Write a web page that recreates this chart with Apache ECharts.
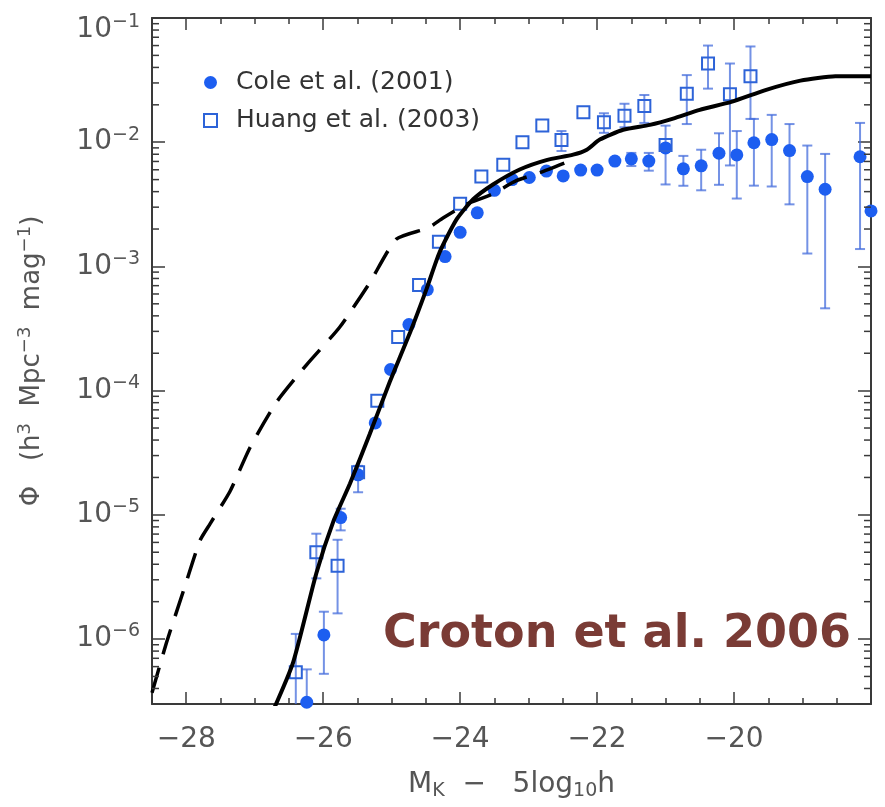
<!DOCTYPE html>
<html><head><meta charset="utf-8">
<script src="https://cdn.jsdelivr.net/npm/echarts@6/dist/echarts.min.js"></script>
<style>html,body{margin:0;padding:0;background:#fff}#c{width:885px;height:807px}</style>
</head><body><div id="c"></div>
<script>
// ---- axis ranges ----
const xMin = -28.5, xMax = -18;
const yMin = 3e-7, yMax = 0.1;

// ---- Cole et al. (2001) ----
const coleX  = [-26.24,-25.99,-25.745,-25.49,-25.24,-25.016,-24.748,-24.48,-24.22,-24.0,-23.75,-23.5,-23.24,-22.99,-22.74,-22.495,-22.24,-22.0,-21.74,-21.5,-21.245,-21.0,-20.74,-20.48,-20.22,-19.96,-19.71,-19.45,-19.19,-18.93,-18.67,-18.16,-18.0];
const coleY  = [3.1e-7,1.08e-6,9.5e-6,2.1e-5,5.5e-5,1.48e-4,3.4e-4,6.5e-4,1.2e-3,1.88e-3,2.7e-3,4.1e-3,5.0e-3,5.2e-3,5.86e-3,5.35e-3,5.97e-3,5.97e-3,7.05e-3,7.35e-3,7.05e-3,9.0e-3,6.1e-3,6.45e-3,8.15e-3,7.9e-3,9.9e-3,1.05e-2,8.57e-3,5.29e-3,4.18e-3,7.64e-3,2.8e-3];
const coleLo = [1e-7,5.25e-7,7.5e-6,1.52e-5,null,null,null,null,null,null,null,null,null,null,null,null,null,null,null,6.43e-3,5.9e-3,4.57e-3,4.46e-3,4.1e-3,4.54e-3,3.52e-3,4.47e-3,4.4e-3,3.16e-3,1.27e-3,4.6e-4,1.38e-3,null];
const coleHi = [5.7e-7,1.66e-6,1.12e-5,2.48e-5,null,null,null,null,null,null,null,null,null,null,null,null,null,null,null,8.2e-3,8.2e-3,1.36e-2,7.76e-3,8.7e-3,1.18e-2,1.23e-2,1.54e-2,1.66e-2,1.4e-2,9.4e-3,8.05e-3,1.43e-2,null];

// ---- Huang et al. (2003) ----
const huangX  = [-26.40,-26.10,-25.79,-25.49,-25.21,-24.905,-24.60,-24.31,-24.0,-23.69,-23.37,-23.09,-22.80,-22.52,-22.20,-21.90,-21.60,-21.31,-21.0,-20.69,-20.38,-20.06,-19.76];
const huangY  = [5.4e-7,5.0e-6,3.9e-6,2.2e-5,8.3e-5,2.7e-4,7.1e-4,1.58e-3,3.2e-3,5.3e-3,6.6e-3,1.0e-2,1.36e-2,1.04e-2,1.74e-2,1.45e-2,1.63e-2,1.96e-2,9.5e-3,2.45e-2,4.3e-2,2.43e-2,3.4e-2];
const huangLo = [1e-7,3.08e-6,1.61e-6,null,null,null,null,null,null,null,null,null,null,8.5e-3,null,1.19e-2,1.32e-2,1.43e-2,null,1.4e-2,2.7e-2,6.5e-3,1.54e-2];
const huangHi = [1.1e-6,7.05e-6,6.3e-6,null,null,null,null,null,null,null,null,null,null,1.23e-2,null,1.71e-2,2.04e-2,2.4e-2,null,3.47e-2,6.0e-2,4.3e-2,5.9e-2];

// ---- model curves ----
const modelX = [-26.75,-26.44,-26.10,-25.85,-25.61,-25.32,-25.03,-24.73,-24.49,-24.30,-24.05,-23.81,-23.52,-23.13,-22.74,-22.35,-22.15,-21.96,-21.62,-21.23,-20.89,-20.50,-20.04,-19.53,-19.03,-18.52,-18.0];
const modelY = [2.51e-7,6.46e-7,3.39e-6,8.9e-6,1.78e-5,4.47e-5,1.17e-4,2.95e-4,6.6e-4,1.30e-3,2.4e-3,3.47e-3,4.57e-3,6.03e-3,7.18e-3,7.94e-3,8.7e-3,1.05e-2,1.26e-2,1.38e-2,1.55e-2,1.82e-2,2.11e-2,2.64e-2,3.13e-2,3.39e-2,3.4e-2];
const dashX = [-28.5,-28.29,-28.04,-27.80,-27.65,-27.36,-27.07,-26.68,-26.24,-25.76,-25.32,-24.93,-24.47,-24.25,-23.91,-23.54,-23.18,-22.84,-22.40];
const dashY = [3.7e-7,9.3e-7,2.45e-6,6.2e-6,8.5e-6,1.55e-5,3.47e-5,8.1e-5,1.62e-4,3.24e-4,7.4e-4,1.66e-3,2.04e-3,2.45e-3,3.16e-3,3.8e-3,4.9e-3,5.68e-3,7.08e-3];

// ---- labels ----
const seriesNames = ['Cole et al. (2001)', 'Huang et al. (2003)'];
const annotation = 'Croton et al. 2006';

// minor log ticks (2..9 x 10^n) inside the y range
const yMinorTicks = [];
for (let e = -7; e <= -2; e++) for (let m = 2; m <= 9; m++) {
  const v = m * Math.pow(10, e);
  if (v > yMin && v < yMax) yMinorTicks.push(v);
}

const FONT = 'DejaVu Sans';
const AX = '#3a3a3a';
const LBL = '#555';
const BLUE = '#1d5ef0';
const SQ = '#2d63d8';
const ERR = 'rgba(70,110,220,0.75)';

function errData(xs, ys, lo, hi) {
  const out = [];
  xs.forEach((x, i) => { if (lo[i] != null) out.push([x, ys[i], lo[i], hi[i]]); });
  return out;
}
function errItem(params, api) {
  const x = api.value(0), lo = api.value(2), hi = api.value(3);
  const a = api.coord([x, lo]), b = api.coord([x, hi]);
  const w = 5, st = { stroke: ERR, lineWidth: 2 };
  return { type: 'group', children: [
    { type: 'line', shape: { x1: a[0], y1: a[1], x2: b[0], y2: b[1] }, style: st },
    { type: 'line', shape: { x1: a[0] - w, y1: a[1], x2: a[0] + w, y2: a[1] }, style: st },
    { type: 'line', shape: { x1: b[0] - w, y1: b[1], x2: b[0] + w, y2: b[1] }, style: st }
  ]};
}
function minorTickItem(params, api) {
  const p = api.coord([xMin, api.value(1)]);
  const cs = params.coordSys;
  const st = { stroke: AX, lineWidth: 1.5 };
  return { type: 'group', children: [
    { type: 'line', shape: { x1: cs.x, y1: p[1], x2: cs.x + 7, y2: p[1] }, style: st },
    { type: 'line', shape: { x1: cs.x + cs.width - 7, y1: p[1], x2: cs.x + cs.width, y2: p[1] }, style: st }
  ]};
}
const supRich = {
  b: { fontSize: 28, fontFamily: FONT, color: LBL, lineHeight: 34 },
  s: { fontSize: 19, fontFamily: FONT, color: LBL, lineHeight: 16, verticalAlign: 'top' },
  g: { fontSize: 2, lineHeight: 24 }
};
const axisCommon = {
  axisLine: { show: true, onZero: false, lineStyle: { color: AX, width: 2 } },
  splitLine: { show: false }
};

const chart = echarts.init(document.getElementById('c'), null, { renderer: 'canvas' });
chart.setOption({
  backgroundColor: '#fff',
  animation: false,
  grid: { left: 152, right: 14, top: 14, bottom: 103, containLabel: false },
  legend: {
    data: seriesNames, orient: 'vertical', left: 198, top: 65,
    itemWidth: 13, itemHeight: 13, itemGap: 13,
    formatter: n => '{t|' + n + '}',
    textStyle: { rich: { t: { fontSize: 25, fontFamily: FONT, color: '#333', lineHeight: 26, padding: [0, 0, 0, 14] } } }
  },
  graphic: [{
    type: 'text', left: 383, top: 612,
    style: { text: annotation, fontSize: 46, fontWeight: 'bold', fontFamily: '"Comic Sans MS", "DejaVu Sans"', fill: '#7a3b35' }
  }],
  xAxis: [{
    type: 'value', min: xMin, max: xMax, position: 'bottom', ...axisCommon,
    axisTick: { inside: true, length: 12, lineStyle: { color: AX, width: 1.5 } },
    minorTick: { show: true, splitNumber: 4, length: 6, lineStyle: { color: AX, width: 1.5 } },
    axisLabel: { showMinLabel: false, showMaxLabel: false, margin: 22, fontSize: 28, fontFamily: FONT, color: LBL,
      formatter: v => (v < 0 ? '−' : '') + Math.abs(v) },
    name: '{b|M}{sub|K}{b|  −   5log}{sub|10}{b|h}', nameLocation: 'middle', nameGap: 65,
    nameTextStyle: { rich: {
      b: { fontSize: 28, fontFamily: FONT, color: LBL, lineHeight: 32 },
      sub: { fontSize: 19, fontFamily: FONT, color: LBL, lineHeight: 14, verticalAlign: 'bottom' } } }
  }, {
    type: 'value', min: xMin, max: xMax, position: 'top', ...axisCommon,
    axisTick: { inside: true, length: 12, lineStyle: { color: AX, width: 1.5 } },
    minorTick: { show: true, splitNumber: 4, length: 6, lineStyle: { color: AX, width: 1.5 } },
    axisLabel: { show: false }
  }],
  yAxis: [{
    type: 'log', logBase: 10, min: yMin, max: yMax, position: 'left', ...axisCommon,
    axisTick: { inside: true, length: 13, lineStyle: { color: AX, width: 1.5 } },
    axisLabel: { showMinLabel: false, margin: 12,
      formatter: v => { const e = Math.round(Math.log10(v));
        const t = '{b|10}{s|−' + (-e) + '}';
        return e === -1 ? '{g| }\n' + t : t; },
      rich: supRich },
    name: '{b|Φ   (h}{s|3}{b|  Mpc}{s|−3}{b|  mag}{s|−1}{b|)}', nameLocation: 'middle', nameGap: 104, nameRotate: 90,
    nameTextStyle: { rich: {
      b: { fontSize: 26, fontFamily: FONT, color: LBL, lineHeight: 32 },
      s: { fontSize: 18, fontFamily: FONT, color: LBL, lineHeight: 16, verticalAlign: 'top' } } }
  }, {
    type: 'log', logBase: 10, min: yMin, max: yMax, position: 'right', ...axisCommon,
    axisTick: { inside: true, length: 13, lineStyle: { color: AX, width: 1.5 } },
    axisLabel: { show: false }
  }],
  series: [
    { type: 'custom', name: 'ticks', silent: true, z: 5, renderItem: minorTickItem,
      data: yMinorTicks.map(v => [xMin, v]) },
    { type: 'custom', name: 'coleErr', silent: true, clip: true, z: 2, renderItem: errItem,
      encode: { x: 0, y: [1, 2, 3] }, data: errData(coleX, coleY, coleLo, coleHi) },
    { type: 'custom', name: 'huangErr', silent: true, clip: true, z: 2, renderItem: errItem,
      encode: { x: 0, y: [1, 2, 3] }, data: errData(huangX, huangY, huangLo, huangHi) },
    { type: 'scatter', name: seriesNames[0], symbol: 'circle', symbolSize: 13, z: 3,
      itemStyle: { color: BLUE, opacity: 1 },
      data: coleX.map((x, i) => [x, coleY[i]]) },
    { type: 'scatter', name: seriesNames[1], symbol: 'rect', symbolSize: 12, z: 3,
      itemStyle: { color: 'rgba(255,255,255,0)', borderColor: SQ, borderWidth: 2, opacity: 1 },
      data: huangX.map((x, i) => [x, huangY[i]]) },
    { type: 'line', name: 'model', symbol: 'none', smooth: 0.2, z: 4,
      lineStyle: { color: '#000', width: 4 },
      data: modelX.map((x, i) => [x, modelY[i]]) },
    { type: 'line', name: 'dashed', symbol: 'none', smooth: 0.2, z: 4,
      lineStyle: { color: '#000', width: 3.5, type: [26, 14] },
      data: dashX.map((x, i) => [x, dashY[i]]) }
  ]
});
</script></body></html>
